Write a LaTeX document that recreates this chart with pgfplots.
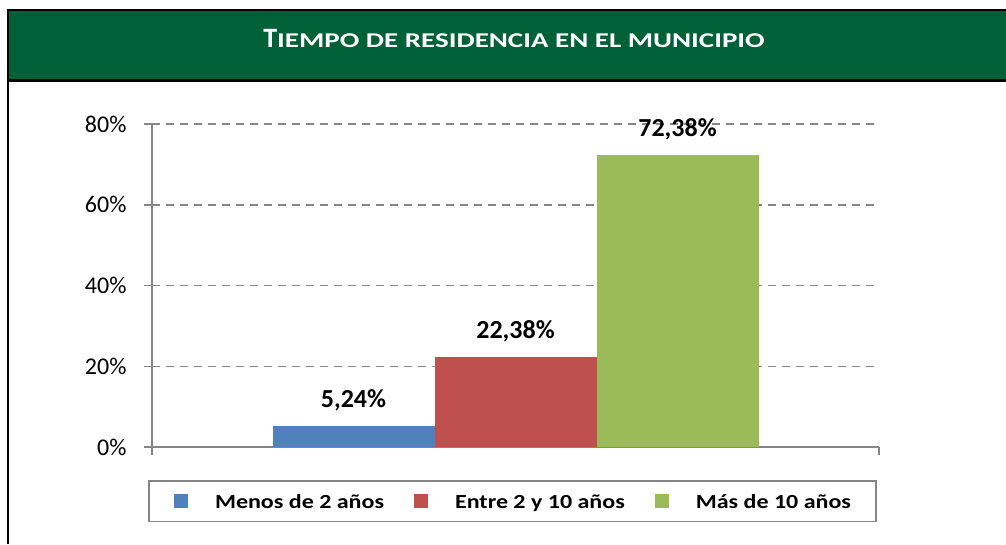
\documentclass[border=0pt]{standalone}
\usepackage{fontspec}
\setmainfont{Carlito}
\newfontfamily\scfont{Carlito}[FakeStretch=1.38]
\newfontfamily\legfont{Carlito}[FakeStretch=1.2]
\usepackage{pgfplots}
\pgfplotsset{compat=1.18}
\definecolor{ttlgreen}{RGB}{0,97,56}
\definecolor{barblue}{RGB}{79,129,189}
\definecolor{barred}{RGB}{192,80,77}
\definecolor{bargreen}{RGB}{155,187,89}
\definecolor{axgray}{RGB}{134,134,134}
\begin{document}
\begin{tikzpicture}
\path[use as bounding box] (0pt,0pt) rectangle (1006pt,544pt);
\fill[black] (7pt,462pt) rectangle (1006pt,535pt);
\fill[ttlgreen] (9pt,465pt) rectangle (1006pt,533pt);
\fill[black] (7pt,0pt) rectangle (9pt,462pt);
\node[anchor=base, text=white, font=\bfseries, inner sep=0pt] at (514pt,496pt)
  {{\fontsize{28}{30}\selectfont T}{\scfont\bfseries\fontsize{21}{24}\selectfont IEMPO DE RESIDENCIA EN EL MUNICIPIO}};
\begin{axis}[
  at={(152pt,97pt)}, anchor=south west,
  scale only axis, width=727pt, height=323pt,
  xmin=0, xmax=1, ymin=0, ymax=80,
  axis x line*=bottom, axis y line*=left,
  axis line style={axgray, line width=1.5pt, -},
  xtick={0,1}, xticklabels={},
  ytick={0,20,40,60,80}, yticklabels={0\%,20\%,40\%,60\%,80\%},
  tick align=outside, major tick length=8pt,
  tick style={axgray, line width=1.5pt},
  ymajorgrids, grid style={axgray, line width=1.5pt, dash pattern=on 8pt off 6pt},
  yticklabel style={font=\fontsize{24}{28}\selectfont, xshift=-14pt},
  ybar=0pt, bar width=162pt,
  nodes near coords, point meta=explicit symbolic,
  every node near coord/.append style={font=\bfseries\fontsize{26}{30}\selectfont, anchor=base, yshift=18pt},
  legend columns=3,
  legend style={at={(0.4959,-0.1672)}, anchor=center, draw=axgray, line width=1.5pt,
    font=\legfont\bfseries\fontsize{20}{24}\selectfont,
    column sep=27pt, /tikz/every even column/.append style={column sep=30pt},
    inner xsep=25pt, inner ysep=11.75pt,
    nodes={inner sep=0pt, text height=16pt, text depth=1pt}, cells={anchor=west}},
  legend image code/.code={\draw[#1, draw=none] (0pt,-7pt) rectangle (14pt,7pt);},
]
\addplot[fill=barblue, draw=none] coordinates {(0.5,5.24) [5,24\%]};
\addplot[fill=barred, draw=none] coordinates {(0.5,22.38) [22,38\%]};
\addplot[fill=bargreen, draw=none] coordinates {(0.5,72.38) [72,38\%]};
\legend{Menos de 2 años, Entre 2 y 10 años, Más de 10 años}
\end{axis}
\end{tikzpicture}
\end{document}
